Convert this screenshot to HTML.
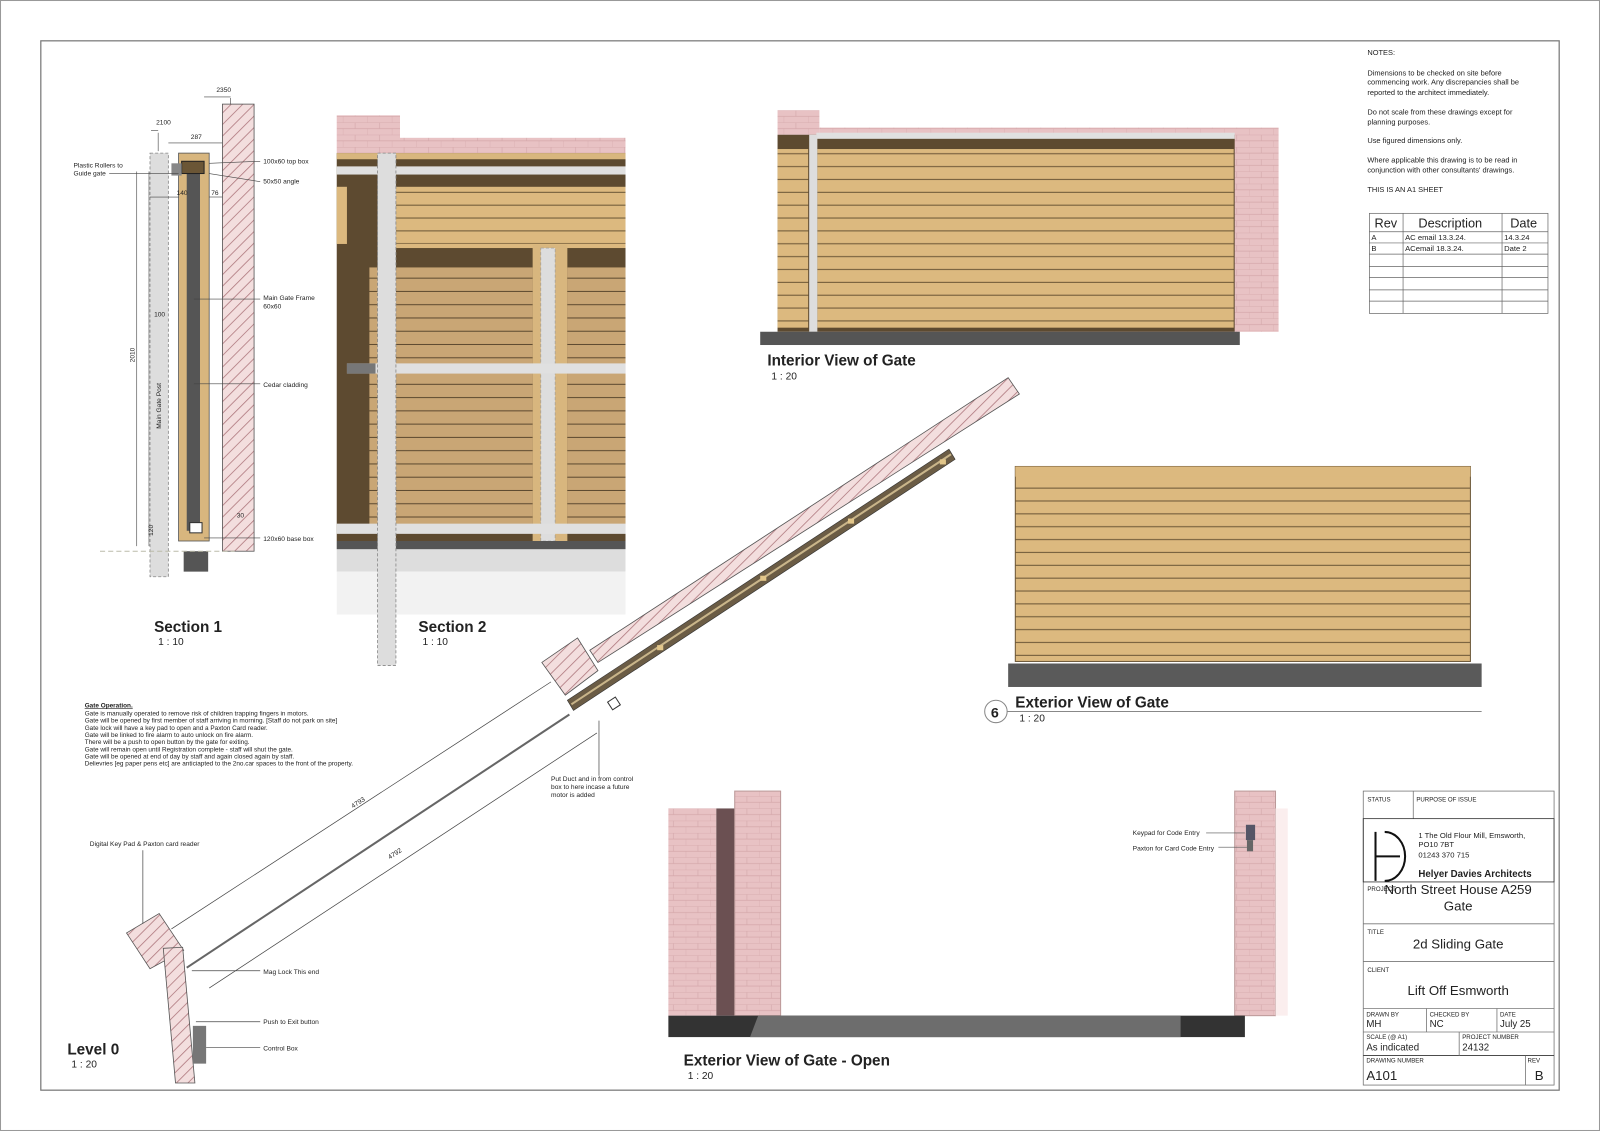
<!DOCTYPE html>
<html><head><meta charset="utf-8">
<style>
html,body{margin:0;padding:0;background:#fff;}
svg{display:block;}
text{font-family:"Liberation Sans",Arial,sans-serif;fill:#222;}
</style></head>
<body>
<svg width="1600" height="1131" viewBox="0 0 1568 1108" preserveAspectRatio="none" xmlns="http://www.w3.org/2000/svg">
<defs>
<pattern id="hatch" width="8" height="8" patternUnits="userSpaceOnUse" patternTransform="rotate(45)">
<rect width="8" height="8" fill="#f3dede"/><line x1="0" y1="0" x2="0" y2="8" stroke="#b07a80" stroke-width="1.6"/>
</pattern>
<pattern id="brick" width="24" height="12" patternUnits="userSpaceOnUse">
<rect width="24" height="12" fill="#e8c2c4"/><path d="M0 0H24M0 6H24M12 0V6M0 6V12" stroke="#d4a7aa" stroke-width="0.6" fill="none"/>
</pattern>
<pattern id="clad" width="10" height="12.6" patternUnits="userSpaceOnUse">
<rect width="10" height="12.6" fill="#dcb97f"/><line x1="0" y1="12" x2="10" y2="12" stroke="#6b5636" stroke-width="1"/>
</pattern>
<pattern id="clad2" width="10" height="13" patternUnits="userSpaceOnUse">
<rect width="10" height="13" fill="#c9a675"/><line x1="0" y1="12.5" x2="10" y2="12.5" stroke="#5d4a30" stroke-width="1"/>
</pattern>
</defs>
<rect x="0.5" y="0.5" width="1567" height="1107" fill="#fff" stroke="#999"/>
<rect x="40" y="40" width="1488" height="1028" fill="none" stroke="#777" stroke-width="1.2"/>

<!-- Section 1 -->
<rect x="147" y="150" width="18" height="415" fill="#ddd" stroke="#888" stroke-width="0.8" stroke-dasharray="3 2"/>
<rect x="175" y="150" width="30" height="380" fill="#d8b67e" stroke="#555" stroke-width="0.8"/>
<rect x="183" y="170" width="13" height="350" fill="#555"/>
<rect x="178" y="158" width="22" height="12" fill="#6b5636" stroke="#222"/>
<rect x="168" y="160" width="10" height="12" fill="#888"/>
<rect x="218" y="102" width="31" height="438" fill="url(#hatch)" stroke="#555" stroke-width="0.8"/>
<rect x="186" y="512" width="12" height="10" fill="#fff" stroke="#333"/>
<rect x="180" y="540" width="24" height="20" fill="#555"/>
<line x1="98" y1="540" x2="230" y2="540" stroke="#bba" stroke-dasharray="5 3"/>
<g stroke="#444" stroke-width="0.6" fill="none">
<line x1="134" y1="168" x2="134" y2="535"/><line x1="146" y1="168" x2="146" y2="535"/>
<line x1="165" y1="140" x2="218" y2="140"/><line x1="147" y1="193" x2="175" y2="193"/><line x1="205" y1="193" x2="218" y2="193"/>
<line x1="155" y1="130" x2="155" y2="148"/><line x1="226" y1="96" x2="226" y2="102"/>
<line x1="148" y1="128" x2="155" y2="128"/><line x1="200" y1="95" x2="226" y2="95"/>
<line x1="205" y1="160" x2="255" y2="158"/><line x1="205" y1="170" x2="255" y2="178"/>
<line x1="107" y1="170" x2="175" y2="170"/>
<line x1="190" y1="293" x2="255" y2="293"/><line x1="190" y1="376" x2="255" y2="376"/>
<line x1="200" y1="527" x2="255" y2="527"/>
</g>
<g font-size="6.5">
<text x="212" y="90">2350</text><text x="153" y="122">2100</text><text x="187" y="136">287</text>
<text x="72" y="164">Plastic Rollers to</text><text x="72" y="172">Guide gate</text>
<text x="258" y="160">100x60 top box</text><text x="258" y="180">50x50 angle</text>
<text x="173" y="191">140</text><text x="207" y="191">76</text>
<text x="258" y="294">Main Gate Frame</text><text x="258" y="302">60x60</text>
<text x="258" y="379">Cedar cladding</text><text x="258" y="530">120x60 base box</text>
<text x="151" y="310">100</text>
<text transform="translate(132,355) rotate(-90)">2010</text>
<text transform="translate(158,420) rotate(-90)">Main Gate Post</text>
<text transform="translate(150,525) rotate(-90)">120</text>
<text x="232" y="507">30</text>
</g>
<text x="151" y="619" font-size="15" font-weight="bold">Section 1</text>
<text x="155" y="632" font-size="10">1 : 10</text>

<!-- Section 2 -->
<rect x="330" y="113" width="62" height="37" fill="url(#brick)"/>
<rect x="392" y="135" width="221" height="15" fill="url(#brick)"/>
<rect x="330" y="150" width="283" height="380" fill="#5d4a30"/>
<rect x="330" y="150" width="283" height="6" fill="#d8b67e"/>
<rect x="330" y="163" width="283" height="8" fill="#e0e0e0"/>
<rect x="388" y="183" width="225" height="56" fill="url(#clad)"/>
<rect x="330" y="183" width="10" height="56" fill="#dcb97f"/>
<rect x="388" y="239" width="225" height="4" fill="#dcb97f"/>
<rect x="362" y="262" width="160" height="255" fill="url(#clad2)"/>
<rect x="522" y="240" width="34" height="290" fill="#d8b67e"/>
<rect x="556" y="262" width="57" height="255" fill="url(#clad2)"/>
<rect x="530" y="243" width="14" height="287" fill="#ddd" stroke="#999" stroke-dasharray="3 2" stroke-width="0.6"/>
<rect x="340" y="356" width="273" height="10" fill="#e0e0e0"/>
<rect x="340" y="356" width="28" height="10" fill="#777"/>
<rect x="330" y="513" width="283" height="10" fill="#e0e0e0"/>
<rect x="330" y="530" width="283" height="30" fill="#ddd"/>
<rect x="330" y="530" width="283" height="8" fill="#555"/>
<rect x="330" y="560" width="283" height="42" fill="#f2f2f2"/>
<rect x="370" y="150" width="18" height="502" fill="#ddd" stroke="#888" stroke-width="0.8" stroke-dasharray="3 2"/>
<text x="410" y="619" font-size="15" font-weight="bold">Section 2</text>
<text x="414" y="632" font-size="10">1 : 10</text>

<!-- Interior view -->
<rect x="803" y="125" width="450" height="200" fill="url(#brick)"/>
<rect x="762" y="108" width="41" height="24" fill="url(#brick)"/>
<rect x="762" y="132" width="448" height="193" fill="#5d4a30"/>
<rect x="800" y="130" width="410" height="6" fill="#e0e0e0"/>
<rect x="801" y="146" width="408" height="175" fill="url(#clad)"/>
<rect x="762" y="146" width="30" height="175" fill="url(#clad)"/>
<rect x="793" y="132" width="8" height="193" fill="#ddd"/>
<rect x="745" y="325" width="470" height="13" fill="#555"/>
<text x="752" y="358" font-size="15" font-weight="bold">Interior View of Gate</text>
<text x="756" y="372" font-size="10">1 : 20</text>

<!-- Exterior view -->
<rect x="995" y="457" width="446" height="191" fill="url(#clad)" stroke="#6b5636"/>
<rect x="995" y="457" width="446" height="10" fill="#dcb97f"/>
<rect x="988" y="650" width="464" height="23" fill="#5a5a5a"/>
<circle cx="976" cy="697" r="11" fill="#fff" stroke="#888"/>
<text x="971" y="703" font-size="14" font-weight="bold">6</text>
<line x1="987" y1="697" x2="1452" y2="697" stroke="#888"/>
<text x="995" y="693" font-size="15" font-weight="bold">Exterior View of Gate</text>
<text x="999" y="707" font-size="10">1 : 20</text>

<!-- Plan diagonal -->
<polygon points="578,637 988,370 999,386 586,649" fill="url(#hatch)" stroke="#555" stroke-width="0.8"/>
<polygon points="531,649 566,625 586,657 554,681" fill="url(#hatch)" stroke="#555" stroke-width="0.8"/>
<polygon points="556,686 930,440 936,450 562,696" fill="#6b5c45" stroke="#333" stroke-width="0.6"/>
<line x1="560" y1="690" x2="932" y2="445" stroke="#c9b58a" stroke-width="2"/>
<g fill="#e2c68a"><rect x="644" y="632" width="6" height="5"/><rect x="745" y="564" width="6" height="5"/><rect x="831" y="508" width="6" height="5"/><rect x="921" y="450" width="6" height="5"/></g>
<rect x="597" y="685" width="9" height="9" fill="#fff" stroke="#333" transform="rotate(-33 601 689)"/>
<polygon points="124,914 156,895 180,931 147,949" fill="url(#hatch)" stroke="#555" stroke-width="0.8"/>
<polygon points="160,929 179,928 191,1061 172,1061" fill="url(#hatch)" stroke="#555" stroke-width="0.8"/>
<rect x="189" y="1005" width="13" height="37" fill="#777"/>
<g stroke="#444" fill="none" stroke-width="0.7">
<line x1="183" y1="948" x2="558" y2="700" stroke-width="2" stroke="#666"/>
<line x1="168" y1="910" x2="540" y2="668"/>
<line x1="205" y1="968" x2="585" y2="718"/>
<line x1="587" y1="706" x2="587" y2="760"/>
<line x1="140" y1="833" x2="140" y2="905"/>
<line x1="188" y1="951" x2="255" y2="951"/>
<line x1="192" y1="1001" x2="255" y2="1001"/>
<line x1="202" y1="1026" x2="255" y2="1026"/>
</g>
<text transform="translate(346,792) rotate(-33)" font-size="6.5">4793</text>
<text transform="translate(382,842) rotate(-33)" font-size="6.5">4792</text>
<g font-size="6.5">
<text x="540" y="765">Put Duct and in from control</text><text x="540" y="773">box to here incase a future</text><text x="540" y="781">motor is added</text>
<text x="88" y="829">Digital Key Pad &amp; Paxton card reader</text>
<text x="258" y="954">Mag Lock This end</text>
<text x="258" y="1003">Push to Exit button</text>
<text x="258" y="1029">Control Box</text>
</g>
<text x="66" y="1033" font-size="15" font-weight="bold">Level 0</text>
<text x="70" y="1046" font-size="10">1 : 20</text>

<!-- Gate operation -->
<g font-size="6.3">
<text x="83" y="693" font-weight="bold" text-decoration="underline">Gate Operation.</text>
<text x="83" y="701">Gate is manually operated to remove risk of children trapping fingers in motors.</text>
<text x="83" y="708">Gate will be opened by first member of staff arriving in morning. [Staff do not park on site]</text>
<text x="83" y="715">Gate lock will have a key pad to open and a Paxton Card reader.</text>
<text x="83" y="722">Gate will be linked to fire alarm to auto unlock on fire alarm.</text>
<text x="83" y="729">There will be a push to open button by the gate for exiting.</text>
<text x="83" y="736">Gate will remain open until Registration complete - staff will shut the gate.</text>
<text x="83" y="743">Gate will be opened at end of day by staff and again closed again by staff.</text>
<text x="83" y="750">Delievries [eg paper pens etc] are anticiapted to the 2no.car spaces to the front of the property.</text>
</g>

<!-- Exterior open -->
<rect x="655" y="792" width="47" height="203" fill="url(#brick)"/>
<rect x="702" y="792" width="18" height="203" fill="#6b5052"/>
<rect x="720" y="775" width="45" height="220" fill="url(#brick)" stroke="#b99"/>
<rect x="1210" y="775" width="40" height="220" fill="url(#brick)" stroke="#b99"/>
<rect x="1250" y="792" width="12" height="203" fill="#fbeeee"/>
<rect x="655" y="995" width="565" height="21" fill="#333"/>
<polygon points="743,995 1157,995 1157,1016 735,1016" fill="#6d6d6d"/>
<rect x="1221" y="808" width="9" height="15" fill="#556"/>
<rect x="1222" y="823" width="6" height="11" fill="#666"/>
<g font-size="6.5"><text x="1110" y="818">Keypad for Code Entry</text><text x="1110" y="833">Paxton for Card Code Entry</text></g>
<line x1="1182" y1="816" x2="1220" y2="816" stroke="#555" stroke-width="0.6"/>
<line x1="1194" y1="830" x2="1222" y2="830" stroke="#555" stroke-width="0.6"/>
<text x="670" y="1044" font-size="15" font-weight="bold">Exterior View of Gate - Open</text>
<text x="674" y="1057" font-size="10">1 : 20</text>

<!-- Notes -->
<g font-size="7.3">
<text x="1340" y="54">NOTES:</text>
<text x="1340" y="74">Dimensions to be checked on site before</text>
<text x="1340" y="83">commencing work. Any discrepancies shall be</text>
<text x="1340" y="93">reported to the architect immediately.</text>
<text x="1340" y="112">Do not scale from these drawings except for</text>
<text x="1340" y="122">planning purposes.</text>
<text x="1340" y="140">Use figured dimensions only.</text>
<text x="1340" y="159">Where applicable this drawing is to be read in</text>
<text x="1340" y="169">conjunction with other consultants' drawings.</text>
<text x="1340" y="188">THIS IS AN A1 SHEET</text>
</g>
<g stroke="#666" stroke-width="0.7" fill="none">
<rect x="1342" y="209" width="175" height="98"/>
<line x1="1342" y1="227" x2="1517" y2="227"/><line x1="1342" y1="238" x2="1517" y2="238"/><line x1="1342" y1="249" x2="1517" y2="249"/>
<line x1="1342" y1="261" x2="1517" y2="261"/><line x1="1342" y1="272" x2="1517" y2="272"/><line x1="1342" y1="284" x2="1517" y2="284"/><line x1="1342" y1="295" x2="1517" y2="295"/>
<line x1="1375" y1="209" x2="1375" y2="307"/><line x1="1472" y1="209" x2="1472" y2="307"/>
</g>
<g font-size="12.5"><text x="1347" y="223">Rev</text><text x="1390" y="223">Description</text><text x="1480" y="223">Date</text></g>
<g font-size="7.5"><text x="1344" y="235">A</text><text x="1377" y="235">AC email 13.3.24.</text><text x="1474" y="235">14.3.24</text>
<text x="1344" y="246">B</text><text x="1377" y="246">ACemail 18.3.24.</text><text x="1474" y="246">Date 2</text></g>

<!-- Title block -->
<g stroke="#777" stroke-width="0.8" fill="none">
<rect x="1336" y="775" width="187" height="288"/>
<line x1="1385" y1="775" x2="1385" y2="802"/>
<rect x="1336" y="802" width="187" height="62" stroke="#333"/>
<line x1="1336" y1="905" x2="1523" y2="905"/>
<line x1="1336" y1="942" x2="1523" y2="942"/>
<line x1="1336" y1="988" x2="1523" y2="988"/>
<line x1="1336" y1="1011" x2="1523" y2="1011"/>
<line x1="1336" y1="1034" x2="1523" y2="1034" stroke="#333"/>
<line x1="1398" y1="988" x2="1398" y2="1011"/><line x1="1467" y1="988" x2="1467" y2="1011"/>
<line x1="1430" y1="1011" x2="1430" y2="1034"/><line x1="1495" y1="1034" x2="1495" y2="1063"/>
</g>
<g font-size="6"><text x="1340" y="785">STATUS</text><text x="1388" y="785">PURPOSE OF ISSUE</text>
<text x="1340" y="873">PROJECT</text><text x="1340" y="915">TITLE</text><text x="1340" y="952">CLIENT</text>
<text x="1339" y="996">DRAWN BY</text><text x="1401" y="996">CHECKED BY</text><text x="1470" y="996">DATE</text>
<text x="1339" y="1018">SCALE (@ A1)</text><text x="1433" y="1018">PROJECT NUMBER</text>
<text x="1339" y="1041">DRAWING NUMBER</text><text x="1497" y="1041">REV</text></g>
<path d="M1348 815 V863 M1348 839 H1372 M1357 815 A20 24 0 0 1 1357 863" stroke="#111" stroke-width="2" fill="none"/>
<g font-size="7.5"><text x="1390" y="821">1 The Old Flour Mill, Emsworth,</text><text x="1390" y="830">PO10 7BT</text><text x="1390" y="840">01243 370 715</text></g>
<text x="1390" y="859" font-size="9.5" font-family="Liberation Serif,serif" font-weight="bold">Helyer Davies Architects</text>
<g font-size="13" text-anchor="middle"><text x="1429" y="876">North Street House A259</text><text x="1429" y="892">Gate</text>
<text x="1429" y="929">2d Sliding Gate</text><text x="1429" y="975">Lift Off Esmworth</text></g>
<g font-size="9.5"><text x="1339" y="1006">MH</text><text x="1401" y="1006">NC</text><text x="1470" y="1006">July 25</text>
<text x="1339" y="1029">As indicated</text><text x="1433" y="1029">24132</text></g>
<text x="1339" y="1058" font-size="13">A101</text><text x="1504" y="1058" font-size="13">B</text>
</svg>
</body></html>
